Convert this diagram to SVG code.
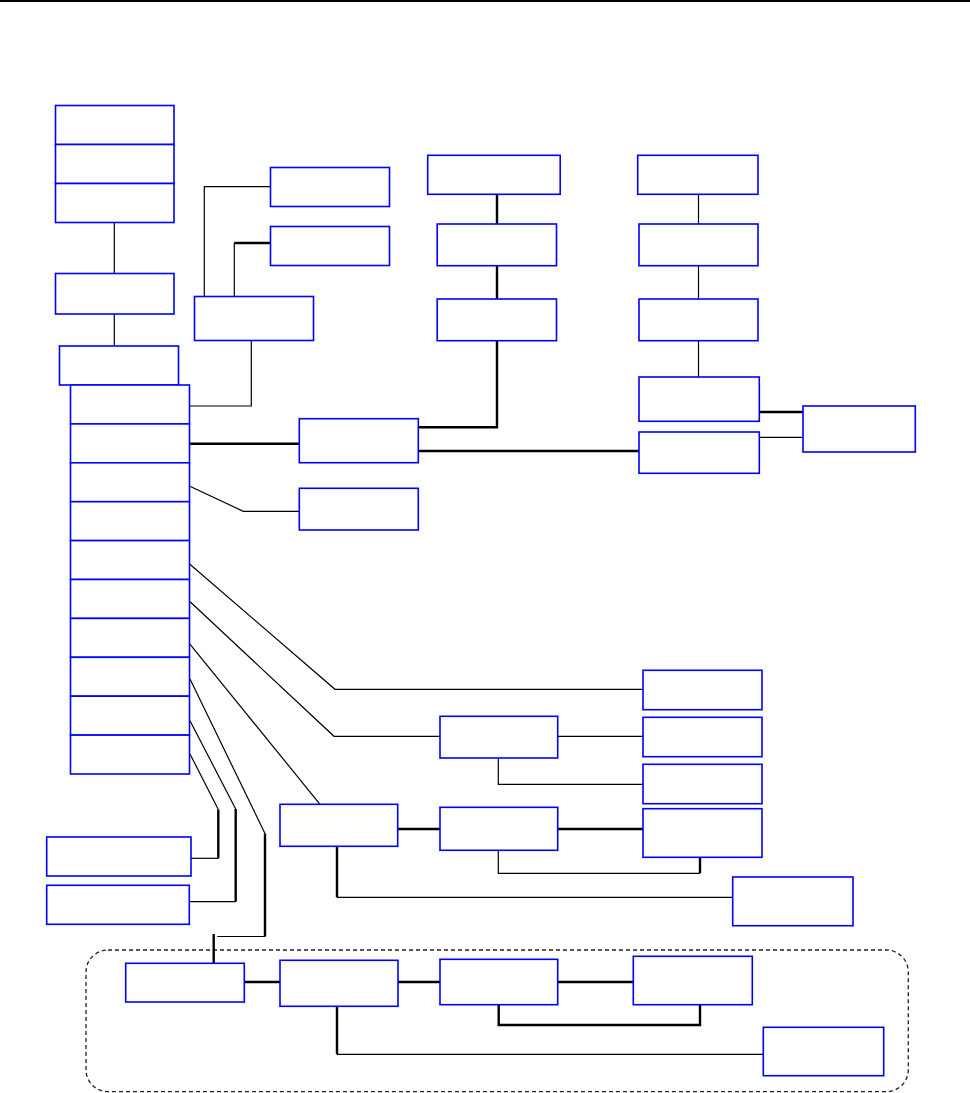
<svg xmlns="http://www.w3.org/2000/svg" width="970" height="1093" viewBox="0 0 970 1093">
<style>
.n{fill:#fff;stroke:#0000ff;stroke-width:1.6}
.t{fill:none;stroke:#000;stroke-width:1.2}
.k{fill:none;stroke:#000;stroke-width:2.4}
.d{fill:none;stroke:#222;stroke-width:1.3;stroke-dasharray:4 3}
</style>
<rect x="0" y="0" width="970" height="2" fill="#000"/>
<rect id="group-boundary" class="d" x="86" y="950" width="822.3" height="141.7" rx="22"/>
<g id="connectors">
<path class="t" d="M114.3 222.7V273.3M114.3 314V346"/>
<path class="t" d="M204.3 296.5V186.7H270.5"/>
<path class="t" d="M234.3 296.5V243"/>
<path class="k" d="M234.3 243H270.5"/>
<path class="t" d="M251.3 340.5V406H190"/>
<path class="k" d="M497 194.3V224M497 265.7V299M497 340.7V427.3H418.3"/>
<path class="k" d="M418.3 451H639"/>
<path class="t" d="M698.5 194.3V224M698.5 265.7V299M698.5 340.7V377"/>
<path class="k" d="M759.3 412H803"/>
<path class="t" d="M759.3 437.3H803"/>
<path class="k" d="M189.3 443.7H299.3"/>
<path class="t" d="M189.3 486L243.3 511.3H299.3"/>
<path class="t" d="M189.3 563.7L335 689.3H643"/>
<path class="t" d="M189.3 601L334 736.3H440"/>
<path class="t" d="M557.7 736.3H643"/>
<path class="t" d="M498.3 758V784.3H643"/>
<path class="t" d="M189.3 643.3L320 804.3"/>
<path class="k" d="M397.7 829H440M557.7 829H643"/>
<path class="t" d="M498.3 850.3V873.3H700"/>
<path class="k" d="M700 857.3V873.3"/>
<path class="k" d="M337 846.3V897.3"/>
<path class="t" d="M337 897.3H732.7"/>
<path class="t" d="M190 754L218.3 809.5"/>
<path class="k" d="M218.3 809.5V858.3"/>
<path class="t" d="M218.3 858.3H191"/>
<path class="t" d="M190 720.7L235.7 809"/>
<path class="k" d="M235.7 809V901.7"/>
<path class="t" d="M235.7 901.7H188.3"/>
<path class="t" d="M190 679L265 833.5"/>
<path class="k" d="M265 833.5V936.5"/>
<path class="t" d="M265 936.5H217.3"/>
<path class="k" d="M213.7 934V963.3"/>
<path class="k" d="M244.3 982H280M398 982H440M557.7 982H633.3"/>
<path class="k" d="M498.7 1004.7V1025H700V1004.7"/>
<path class="k" d="M337 1003.3V1054.3"/>
<path class="t" d="M337 1054.3H763.3"/>
</g>
<g id="n1a"><rect class="n" x="55.5" y="105.5" width="118.5" height="39"/></g>
<g id="n1b"><rect class="n" x="55.5" y="144.5" width="118.5" height="39"/></g>
<g id="n1c"><rect class="n" x="55.5" y="183.5" width="118.5" height="39"/></g>
<g id="n2"><rect class="n" x="55.5" y="273.5" width="118.5" height="40.5"/></g>
<g id="n3"><rect class="n" x="59.5" y="346" width="119" height="39"/></g>
<g id="s1"><rect class="n" x="70.5" y="385" width="119" height="38.9"/></g>
<g id="s2"><rect class="n" x="70.5" y="423.9" width="119" height="38.9"/></g>
<g id="s3"><rect class="n" x="70.5" y="462.8" width="119" height="38.9"/></g>
<g id="s4"><rect class="n" x="70.5" y="501.7" width="119" height="38.9"/></g>
<g id="s5"><rect class="n" x="70.5" y="540.6" width="119" height="38.9"/></g>
<g id="s6"><rect class="n" x="70.5" y="579.5" width="119" height="38.9"/></g>
<g id="s7"><rect class="n" x="70.5" y="618.4" width="119" height="38.9"/></g>
<g id="s8"><rect class="n" x="70.5" y="657.3" width="119" height="38.9"/></g>
<g id="s9"><rect class="n" x="70.5" y="696.2" width="119" height="38.9"/></g>
<g id="s10"><rect class="n" x="70.5" y="735.1" width="119" height="38.9"/></g>
<g id="n4"><rect class="n" x="194.5" y="296.5" width="119" height="44"/></g>
<g id="n5"><rect class="n" x="270.5" y="167.5" width="119" height="39"/></g>
<g id="n6"><rect class="n" x="270.5" y="226.5" width="119" height="39"/></g>
<g id="a1"><rect class="n" x="427.7" y="155.3" width="132.5" height="39"/></g>
<g id="a2"><rect class="n" x="437.2" y="224" width="119.3" height="41.7"/></g>
<g id="a3"><rect class="n" x="437.2" y="299" width="119.3" height="41.7"/></g>
<g id="q1"><rect class="n" x="637.7" y="155.3" width="120.3" height="39"/></g>
<g id="q2"><rect class="n" x="639" y="224" width="119" height="41.7"/></g>
<g id="q3"><rect class="n" x="639" y="299" width="119" height="41.7"/></g>
<g id="q4"><rect class="n" x="639" y="377" width="120.3" height="44.3"/></g>
<g id="q5"><rect class="n" x="639" y="432" width="120.3" height="41.3"/></g>
<g id="q6"><rect class="n" x="803" y="406" width="112.3" height="46"/></g>
<g id="p1"><rect class="n" x="299.3" y="418.7" width="119" height="44"/></g>
<g id="p2"><rect class="n" x="299.3" y="488.3" width="119" height="41.7"/></g>
<g id="r1"><rect class="n" x="643" y="670.3" width="119" height="39.4"/></g>
<g id="r2"><rect class="n" x="643" y="717.3" width="119" height="39.4"/></g>
<g id="r3"><rect class="n" x="643" y="764.3" width="119" height="39.4"/></g>
<g id="r4"><rect class="n" x="643" y="808.7" width="119" height="48.6"/></g>
<g id="b1"><rect class="n" x="440" y="716.3" width="117.7" height="41.7"/></g>
<g id="c0"><rect class="n" x="280" y="804.3" width="117.7" height="42"/></g>
<g id="c1"><rect class="n" x="440" y="807.3" width="117.7" height="43"/></g>
<g id="g1"><rect class="n" x="732.7" y="877" width="120.3" height="48.7"/></g>
<g id="e1"><rect class="n" x="46.7" y="837" width="144.3" height="39"/></g>
<g id="e2"><rect class="n" x="46.7" y="885.3" width="142.6" height="39"/></g>
<g id="f0"><rect class="n" x="125.7" y="963.3" width="118.6" height="38.7"/></g>
<g id="f1"><rect class="n" x="280" y="960.3" width="118" height="46"/></g>
<g id="f2"><rect class="n" x="440" y="959.3" width="117.7" height="45.4"/></g>
<g id="f3"><rect class="n" x="633.3" y="956.3" width="119" height="48.4"/></g>
<g id="f4"><rect class="n" x="763.3" y="1027.3" width="120.4" height="48.4"/></g>
</svg>
